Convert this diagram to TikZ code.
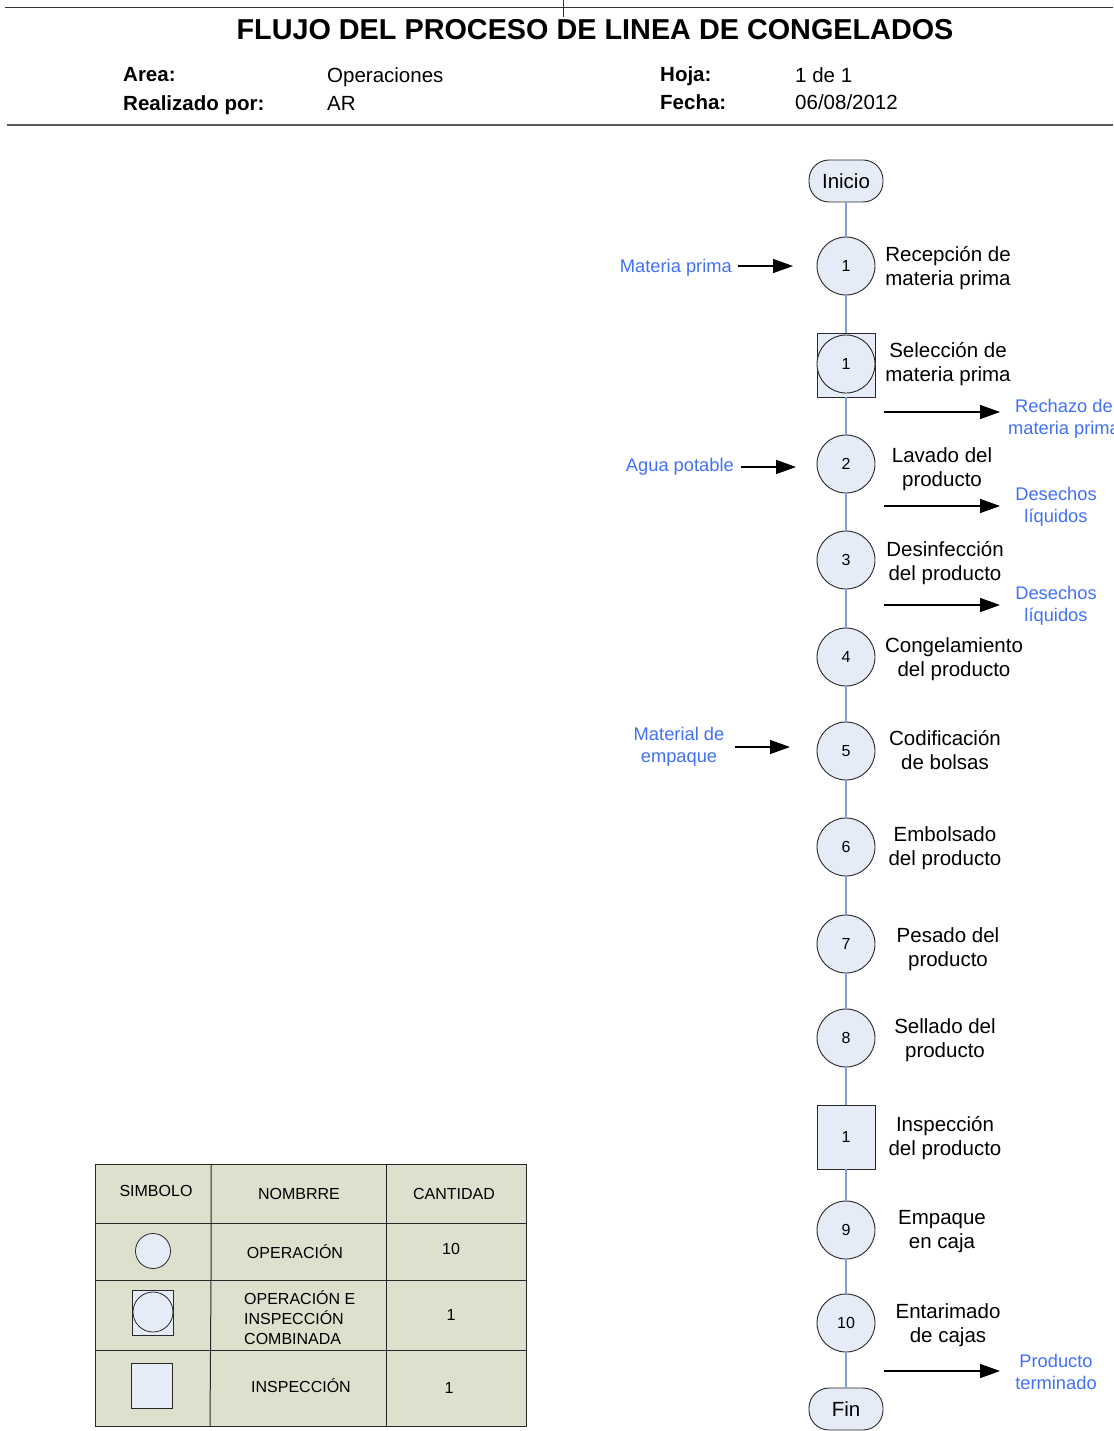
\documentclass[tikz,border=0pt]{standalone}
\usepackage{fontspec}
\setmainfont{Liberation Sans}
\usetikzlibrary{arrows.meta}
\definecolor{nodefill}{RGB}{230,236,247}
\definecolor{linkblue}{RGB}{127,160,208}
\definecolor{txtblue}{RGB}{66,112,245}
\definecolor{tabfill}{RGB}{221,224,205}
\definecolor{edgec}{RGB}{40,40,40}
\begin{document}
\begin{tikzpicture}[x=1pt,y=-1pt,
 op/.style={circle,draw=edgec,fill=nodefill,line width=0.9pt,minimum size=58pt,inner sep=0pt,font=\fontsize{16}{18}\selectfont},
 sq/.style={rectangle,draw=edgec,fill=nodefill,line width=0.9pt,minimum width=58pt,minimum height=64pt,inner sep=0pt,font=\fontsize{16}{18}\selectfont},
 term/.style={rectangle,rounded corners=20pt,draw=edgec,fill=nodefill,line width=0.9pt,minimum width=74pt,minimum height=42pt,inner sep=0pt,font=\fontsize{20.5}{24}\selectfont},
 lbl/.style={align=center,inner sep=0pt,font=\fontsize{20.5}{24}\selectfont},
 blu/.style={align=center,inner sep=0pt,text=txtblue,font=\fontsize{18.3}{22}\selectfont},
 link/.style={draw=linkblue,line width=1.5pt},
 flow/.style={-{Triangle[length=20pt,width=14pt]},line width=1.5pt},
 hdb/.style={anchor=base west,inner sep=0pt,font=\bfseries\fontsize{20.5}{24}\selectfont},
 hdr/.style={anchor=base west,inner sep=0pt,font=\fontsize{20.5}{24}\selectfont},
 tab/.style={align=center,inner sep=0pt,font=\fontsize{16}{20}\selectfont}
]
\useasboundingbox (0,0) rectangle (1113,1431);
% header
\draw[line width=1pt,black!80] (5,8) -- (1113,8);
\draw[line width=1pt,black!80] (563,0) -- (563,17);
\draw[line width=1.8pt,black!65] (7,125) -- (1113,125);
\node[inner sep=0pt,font=\bfseries\fontsize{28.8}{31}\selectfont] (title) at (595,30) {FLUJO DEL PROCESO DE LINEA DE CONGELADOS};
\node[hdb] (area) at (123,82) {Area:};
\node[hdr] (areav) at (327,83) {Operaciones};
\node[hdb] (real) at (123,111) {Realizado por:};
\node[hdr] (realv) at (327,111) {AR};
\node[hdb] (hoja) at (660,82) {Hoja:};
\node[hdr] (hojav) at (795,83) {1 de 1};
\node[hdb] (fecha) at (660,110) {Fecha:};
\node[hdr] (fechav) at (795,110) {06/08/2012};

% flow nodes
\node[term] (ini) at (846,181) {Inicio};
\node[op] (o1) at (846,266) {1};
\node[sq] (comb) at (846,365) {};
\node[op] (combc) at (846,364) {1};
\node[op] (o2) at (846,464) {2};
\node[op] (o3) at (846,560) {3};
\node[op] (o4) at (846,657) {4};
\node[op] (o5) at (846,751) {5};
\node[op] (o6) at (846,847) {6};
\node[op] (o7) at (846,944) {7};
\node[op] (o8) at (846,1038) {8};
\node[sq] (insp) at (846,1137) {1};
\node[op] (o9) at (846,1230) {9};
\node[op] (o10) at (846,1323) {10};
\node[term] (fin) at (846,1409) {Fin};

\draw[link] (ini) -- (o1);
\draw[link] (o1) -- (comb);
\draw[link] (comb) -- (o2);
\draw[link] (o2) -- (o3);
\draw[link] (o3) -- (o4);
\draw[link] (o4) -- (o5);
\draw[link] (o5) -- (o6);
\draw[link] (o6) -- (o7);
\draw[link] (o7) -- (o8);
\draw[link] (o8) -- (insp);
\draw[link] (insp) -- (o9);
\draw[link] (o9) -- (o10);
\draw[link] (o10) -- (fin);

% labels
\node[lbl] (l1) at (948,268) {Recepción de\\materia prima};
\node[lbl] (l2) at (948,364) {Selección de\\materia prima};
\node[lbl] (l3) at (942,469) {Lavado del\\producto};
\node[lbl] (l4) at (945,563) {Desinfección\\del producto};
\node[lbl] (l5) at (954,659) {Congelamiento\\del producto};
\node[lbl] (l6) at (945,750) {Codificación\\de bolsas};
\node[lbl] (l7) at (945,848) {Embolsado\\del producto};
\node[lbl] (l8) at (948,949) {Pesado del\\producto};
\node[lbl] (l9) at (945,1040) {Sellado del\\producto};
\node[lbl] (l10) at (945,1138) {Inspección\\del producto};
\node[lbl] (l11) at (942,1232) {Empaque\\en caja};
\node[lbl] (l12) at (948,1325) {Entarimado\\de cajas};

% inputs
\node[blu,anchor=east] (in1) at (732,268) {Materia prima};
\coordinate (in1s) at (738,266);
\coordinate (in1e) at (793,266);
\draw[flow] (in1s) -- (in1e);
\node[blu,anchor=east] (in2) at (734,467) {Agua potable};
\coordinate (in2s) at (741,467);
\coordinate (in2e) at (796,467);
\draw[flow] (in2s) -- (in2e);
\node[blu] (in3) at (679,747) {Material de\\empaque};
\coordinate (in3s) at (735,747);
\coordinate (in3e) at (790,747);
\draw[flow] (in3s) -- (in3e);

% outputs
\coordinate (s1) at (884,412); \coordinate (e1) at (1000,412);
\draw[flow] (s1) -- (e1);
\node[blu] (out1) at (1064,419) {Rechazo de\\materia prima};
\coordinate (s2) at (884,506); \coordinate (e2) at (1000,506);
\draw[flow] (s2) -- (e2);
\node[blu] (out2) at (1056,507) {Desechos\\líquidos};
\coordinate (s3) at (884,605); \coordinate (e3) at (1000,605);
\draw[flow] (s3) -- (e3);
\node[blu] (out3) at (1056,606) {Desechos\\líquidos};
\coordinate (s4) at (884,1371); \coordinate (e4) at (1000,1371);
\draw[flow] (s4) -- (e4);
\node[blu] (out4) at (1056,1372) {Producto\\terminado};

% table
\draw[fill=tabfill,draw=edgec,line width=1pt] (95,1164) rectangle (526,1426);
\draw[edgec,line width=1pt] (211,1164) -- (211,1280) -- (210,1426);
\draw[edgec,line width=1pt] (386,1164) -- (386,1426);
\draw[edgec,line width=1pt] (95,1223) -- (526,1223);
\draw[edgec,line width=1pt] (95,1280) -- (526,1280);
\draw[edgec,line width=1pt] (95,1350) -- (526,1350);
\node[tab] (h1) at (156,1191) {SIMBOLO};
\node[tab] (h2) at (299,1194) {NOMBRRE};
\node[tab] (h3) at (454,1194) {CANTIDAD};
\node[circle,draw=edgec,fill=nodefill,line width=0.8pt,minimum size=35pt,inner sep=0pt] (sym1) at (153,1251) {};
\node[tab] (n1) at (295,1252) {OPERACIÓN};
\node[tab] (c1) at (451,1249) {10};
\node[rectangle,draw=edgec,fill=nodefill,line width=0.8pt,minimum width=41pt,minimum height=45pt,inner sep=0pt] (sym2) at (152.5,1312.5) {};
\node[circle,draw=edgec,fill=nodefill,line width=0.8pt,minimum size=40pt,inner sep=0pt] (sym2c) at (153,1312) {};
\node[tab,align=left,anchor=west] (n2) at (244,1318) {OPERACIÓN E\\INSPECCIÓN\\COMBINADA};
\node[tab] (c2) at (451,1315) {1};
\node[rectangle,draw=edgec,fill=nodefill,line width=0.8pt,minimum width=41pt,minimum height=45pt,inner sep=0pt] (sym3) at (151.5,1385.5) {};
\node[tab] (n3) at (301,1386) {INSPECCIÓN};
\node[tab] (c3) at (449,1388) {1};
\end{tikzpicture}
\end{document}
